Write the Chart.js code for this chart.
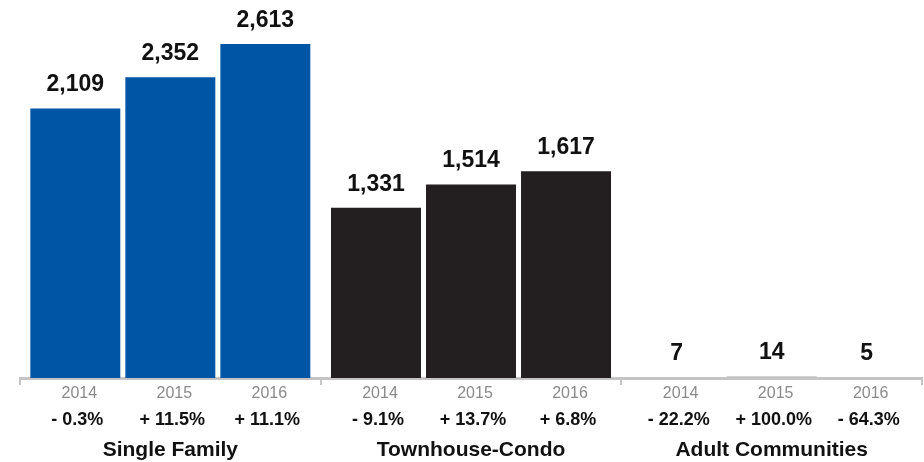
<!DOCTYPE html>
<html>
<head>
<meta charset="utf-8">
<script src="https://cdn.jsdelivr.net/npm/chart.js@4/dist/chart.umd.min.js"></script>
<style>
  html, body { margin: 0; padding: 0; background: #fff; }
  #wrap { width: 924px; height: 462px; position: relative; }
</style>
</head>
<body>
<div id="wrap"><canvas id="chart"></canvas></div>
<script>
// Chart data
const groups = ['Single Family', 'Townhouse-Condo', 'Adult Communities'];
const years = ['2014', '2015', '2016'];
const values2014 = [2109, 1331, 7];
const values2015 = [2352, 1514, 14];
const values2016 = [2613, 1617, 5];
const change2014 = ['- 0.3%', '- 9.1%', '- 22.2%'];
const change2015 = ['+ 11.5%', '+ 13.7%', '+ 100.0%'];
const change2016 = ['+ 11.1%', '+ 6.8%', '- 64.3%'];

// adult communities bars are so small they sink into the axis line
const groupColors = ['#0055a5', '#231f20', '#c4c4c4'];
const FONT = '"Helvetica Neue", Helvetica, Arial, "Liberation Sans", sans-serif';

const seriesValues = [values2014, values2015, values2016];
const seriesChanges = [change2014, change2015, change2016];

// draws value labels above bars and year / change labels below the axis
const barLabels = {
  id: 'barLabels',
  afterDraw(chart) {
    const ctx = chart.ctx;
    const bottom = chart.chartArea.bottom;
    ctx.save();
    ctx.textAlign = 'center';
    chart.data.datasets.forEach((ds, di) => {
      const meta = chart.getDatasetMeta(di);
      meta.data.forEach((bar, i) => {
        // value
        ctx.fillStyle = '#111';
        ctx.font = 'bold 23px ' + FONT;
        ctx.textBaseline = 'alphabetic';
        ctx.fillText(ds.data[i].toLocaleString('en-US'), bar.x, bar.y - 17);
        // year
        ctx.fillStyle = '#8a8a8a';
        ctx.font = '16px ' + FONT;
        ctx.textBaseline = 'middle';
        ctx.fillText(years[di], bar.x + 4, bottom + 16);
        // change
        ctx.fillStyle = '#111';
        ctx.font = 'bold 18px ' + FONT;
        ctx.fillText(seriesChanges[di][i], bar.x + 2, bottom + 42);
      });
    });
    ctx.restore();
  }
};

const ctx = document.getElementById('chart').getContext('2d');
new Chart(ctx, {
  type: 'bar',
  data: {
    labels: groups,
    datasets: years.map((y, di) => ({
      label: y,
      data: seriesValues[di],
      backgroundColor: groupColors,
      borderWidth: 0,
      categoryPercentage: 0.948,
      barPercentage: 0.947
    }))
  },
  options: {
    responsive: true,
    maintainAspectRatio: false,
    animation: false,
    layout: { padding: { left: 20, right: 2, top: 0, bottom: 0 } },
    plugins: {
      legend: { display: false },
      tooltip: { enabled: false }
    },
    scales: {
      x: {
        z: 1,
        grid: {
          offset: true,
          drawOnChartArea: false,
          tickLength: 7,
          color: '#c4c4c4',
          lineWidth: 2
        },
        border: { color: '#c4c4c4', width: 3 },
        ticks: {
          color: '#111',
          font: { family: FONT, size: 21, weight: 'bold' },
          padding: 53
        },
        afterFit(scale) { scale.height = 84; }
      },
      y: {
        display: false,
        min: 0,
        max: 2957
      }
    }
  },
  plugins: [barLabels]
});
</script>
</body>
</html>
